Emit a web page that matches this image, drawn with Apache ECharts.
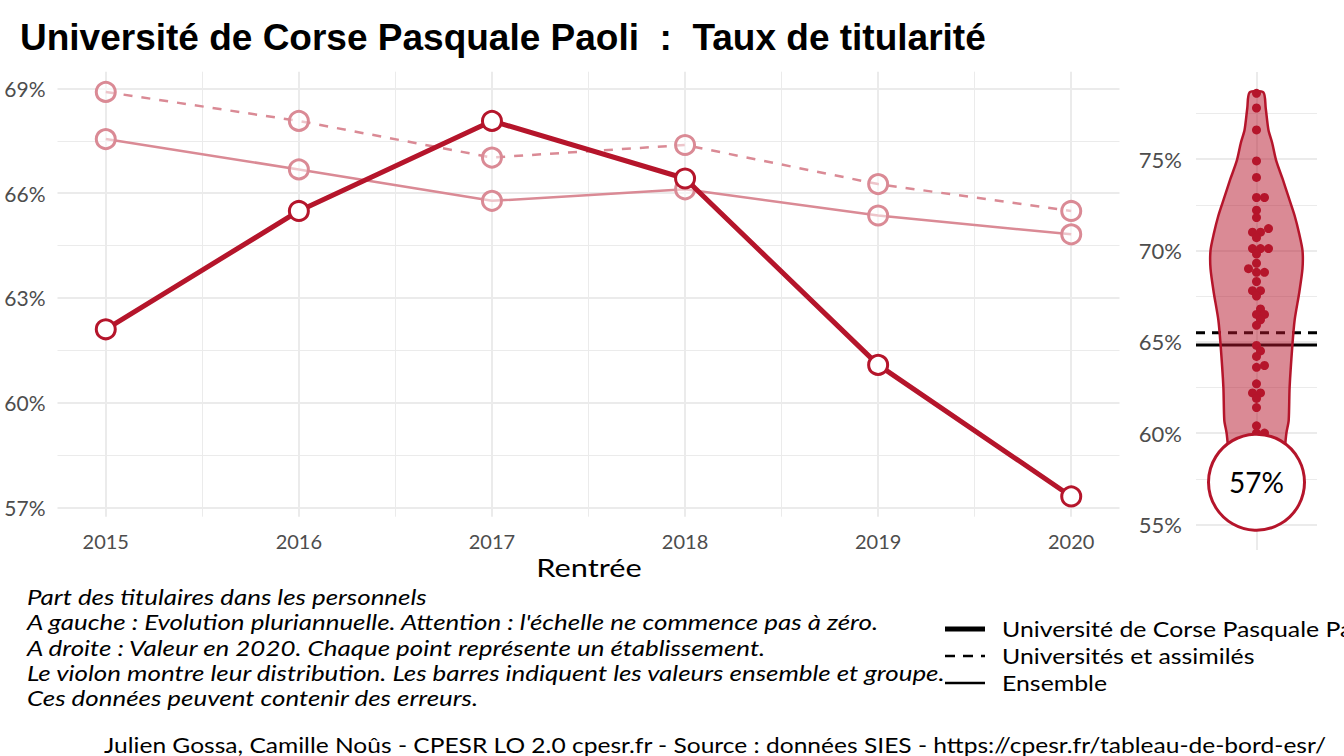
<!DOCTYPE html>
<html>
<head>
<meta charset="utf-8">
<script src="https://cdn.jsdelivr.net/npm/echarts@6.0.0/dist/echarts.min.js"></script>
<style>
  html, body { margin: 0; padding: 0; background: #fff; }
  #main { width: 1344px; height: 756px; }
</style>
</head>
<body>
<div id="main"></div>
<script>
"use strict";

// --- données ---
const years = [2015, 2016, 2017, 2018, 2019, 2020];
const corseValues = [62.10, 65.49, 68.07, 66.42, 61.08, 57.31];     // Université de Corse
const univValues = [68.90, 68.07, 67.02, 67.38, 66.26, 65.49];      // Universités et assimilés
const ensembleValues = [67.55, 66.68, 65.78, 66.11, 65.36, 64.82];  // Ensemble

const leftTicks = [57, 60, 63, 66, 69];
const leftMinorTicks = [58.5, 61.5, 64.5, 67.5];
const yearMinorTicks = [2015.5, 2016.5, 2017.5, 2018.5, 2019.5];
const rightTicks = [55, 60, 65, 70, 75];
const rightMinorTicks = [57.5, 62.5, 67.5, 72.5, 77.5];

// valeurs 2020, un point par établissement
const etabValues = [78.6, 77.8, 76.6, 74.9, 74.0, 72.9, 72.9, 72.2, 71.8, 71.2, 71.0, 71.0,
  70.7, 70.1, 70.1, 70.1, 69.8, 69.3, 69.0, 68.8, 68.8, 68.3, 67.8, 67.8, 67.5, 66.8,
  66.5, 66.5, 66.2, 65.9, 64.8, 64.5, 64.2, 63.7, 63.6, 62.7, 62.2, 62.2, 61.9, 61.4,
  60.4, 60.0, 60.0, 57.3];

// profil du violon (niveau, largeur relative)
const violinLevels = [78.65, 77.8, 76.6, 75.9, 74.9, 73.9, 72.9, 71.9, 70.9, 70.0, 69.0,
  67.7, 66.2, 64.8, 62.5, 60.7, 60.0, 59.0, 57.3];
const violinWidths = [0.15, 0.20, 0.26, 0.34, 0.43, 0.57, 0.70, 0.83, 0.93, 1.0, 1.0,
  0.93, 0.83, 0.78, 0.72, 0.70, 0.65, 0.61, 0.55];

const captionLines = [
  'Part des titulaires dans les personnels',
  "A gauche : Evolution pluriannuelle. Attention : l'échelle ne commence pas à zéro.",
  'A droite : Valeur en 2020. Chaque point représente un établissement.',
  'Le violon montre leur distribution. Les barres indiquent les valeurs ensemble et groupe.',
  'Ces données peuvent contenir des erreurs.'
];
const legendNames = ['Université de Corse Pasquale Paoli', 'Universités et assimilés', 'Ensemble'];

const RED = '#b5152b';
const LIGHT = '#da8a95';
const GRID = '#ebebeb';
const FONT = 'Lato';

// right panel geometry
const rGrid = { left: 1196, right: 27, top: 72, bottom: 206 };
const rMin = 53.6, rMax = 79.77;
const rW = 1344 - rGrid.left - rGrid.right;
const rH = 756 - rGrid.top - rGrid.bottom;

// simple beeswarm : décalage horizontal pour éviter les chevauchements
function swarm(values) {
  const pxPerUnit = rH / (rMax - rMin);
  const diam = 9;
  const placed = [];
  const order = values.map((v, i) => i).sort((a, b) => values[a] - values[b]);
  const out = new Array(values.length);
  order.forEach(i => {
    const y = values[i] * pxPerUnit;
    let off = 0;
    for (let k = 0; k < 40; k++) {
      const cand = k === 0 ? 0 : (k % 2 ? 1 : -1) * Math.ceil(k / 2) * 4;
      const hit = placed.some(p => Math.hypot(p[0] - cand, p[1] - y) < diam * 0.75);
      if (!hit) { off = cand; break; }
    }
    placed.push([off, y]);
    out[i] = [off / (rW / 2), values[i]];
  });
  return out;
}

let chart = echarts.init(document.getElementById('main'), null, { renderer: 'svg' });

const pct = v => v + '%';
const axisText = { fontFamily: FONT, color: '#4d4d4d' };

const option = {
  animation: false,
  backgroundColor: '#fff',
  title: {
    text: 'Université de Corse Pasquale Paoli  :  Taux de titularité',
    left: 15, top: 14,
    textStyle: { fontFamily: 'Liberation Sans', fontWeight: 'bold', fontSize: 37, color: '#000' }
  },
  grid: [
    { left: 57.5, right: 224.5, top: 71.7, bottom: 239.3 },
    rGrid
  ],
  xAxis: [
    {
      gridIndex: 0, type: 'value', min: 2014.75, max: 2020.25,
      axisLine: { show: false }, axisTick: { show: false, customValues: years },
      axisLabel: { customValues: years, formatter: v => String(v), margin: 14, fontSize: 20, ...axisText },
      splitLine: { show: true, lineStyle: { color: GRID, width: 2 } }
    },
    {
      gridIndex: 0, type: 'value', min: 2014.75, max: 2020.25, position: 'bottom',
      axisLine: { show: false }, axisTick: { show: false, customValues: yearMinorTicks },
      axisLabel: { show: false },
      splitLine: { show: true, lineStyle: { color: GRID, width: 1 } }
    },
    {
      gridIndex: 1, type: 'value', min: -1, max: 1,
      axisLine: { show: false }, axisTick: { show: false, customValues: [0] },
      axisLabel: { show: false },
      splitLine: { show: true, lineStyle: { color: GRID, width: 2 } }
    }
  ],
  yAxis: [
    {
      gridIndex: 0, type: 'value', min: 56.73, max: 69.48,
      axisLine: { show: false }, axisTick: { show: false, customValues: leftTicks },
      axisLabel: { customValues: leftTicks, formatter: pct, margin: 12, fontSize: 21, ...axisText },
      splitLine: { show: true, lineStyle: { color: GRID, width: 2 } }
    },
    {
      gridIndex: 0, type: 'value', min: 56.73, max: 69.48, position: 'left',
      axisLine: { show: false }, axisTick: { show: false, customValues: leftMinorTicks },
      axisLabel: { show: false },
      splitLine: { show: true, lineStyle: { color: GRID, width: 1 } }
    },
    {
      gridIndex: 1, type: 'value', min: rMin, max: rMax,
      axisLine: { show: false }, axisTick: { show: false, customValues: rightTicks },
      axisLabel: { customValues: rightTicks, formatter: pct, margin: 14, fontSize: 22, ...axisText },
      splitLine: { show: true, lineStyle: { color: GRID, width: 2 } }
    },
    {
      gridIndex: 1, type: 'value', min: rMin, max: rMax, position: 'left',
      axisLine: { show: false }, axisTick: { show: false, customValues: rightMinorTicks },
      axisLabel: { show: false },
      splitLine: { show: true, lineStyle: { color: GRID, width: 1 } }
    }
  ],
  series: [
    {
      name: legendNames[1], type: 'line', xAxisIndex: 0, yAxisIndex: 0, z: 2,
      data: years.map((y, i) => [y, univValues[i]]),
      lineStyle: { color: LIGHT, width: 2.5, type: [9, 9] },
      symbol: 'circle', symbolSize: 19,
      itemStyle: { color: 'rgba(255,255,255,0.5)', borderColor: LIGHT, borderWidth: 3 }
    },
    {
      name: legendNames[2], type: 'line', xAxisIndex: 0, yAxisIndex: 0, z: 2,
      data: years.map((y, i) => [y, ensembleValues[i]]),
      lineStyle: { color: LIGHT, width: 2.5 },
      symbol: 'circle', symbolSize: 19,
      itemStyle: { color: 'rgba(255,255,255,0.5)', borderColor: LIGHT, borderWidth: 3 }
    },
    {
      name: legendNames[0], type: 'line', xAxisIndex: 0, yAxisIndex: 0, z: 3,
      data: years.map((y, i) => [y, corseValues[i]]),
      lineStyle: { color: RED, width: 5 },
      symbol: 'circle', symbolSize: 19,
      itemStyle: { color: '#fff', borderColor: RED, borderWidth: 3 }
    },
    // barres ensemble / groupe (2020)
    {
      type: 'line', xAxisIndex: 2, yAxisIndex: 2, z: 2, symbol: 'none',
      data: [[-1, univValues[5]], [1, univValues[5]]],
      lineStyle: { color: '#000', width: 3, type: [9, 7] }
    },
    {
      type: 'line', xAxisIndex: 2, yAxisIndex: 2, z: 2, symbol: 'none',
      data: [[-1, ensembleValues[5]], [1, ensembleValues[5]]],
      lineStyle: { color: '#000', width: 3 }
    },
    // violon
    {
      type: 'custom', xAxisIndex: 2, yAxisIndex: 2, z: 3,
      data: [[0, 0]],
      renderItem: function (params, api) {
        const maxHalf = 0.76;
        const rightSide = violinLevels.map((v, i) => api.coord([violinWidths[i] * maxHalf, v]));
        const leftSide = violinLevels.map((v, i) => api.coord([-violinWidths[i] * maxHalf, v])).reverse();
        return {
          type: 'polygon',
          shape: { points: rightSide.concat(leftSide), smooth: 0.25 },
          style: { fill: 'rgba(181,21,43,0.5)', stroke: RED, lineWidth: 2.5 }
        };
      }
    },
    // un point par établissement
    {
      type: 'scatter', xAxisIndex: 2, yAxisIndex: 2, z: 4,
      data: swarm(etabValues),
      symbolSize: 9,
      itemStyle: { color: RED, opacity: 1 }
    },
    // valeur 2020 de l'établissement
    {
      type: 'scatter', xAxisIndex: 2, yAxisIndex: 2, z: 5,
      data: [[0, corseValues[5]]],
      symbolSize: 96,
      itemStyle: { color: '#fff', borderColor: RED, borderWidth: 3, opacity: 1 },
      label: {
        show: true, position: 'inside',
        formatter: p => Math.round(p.value[1]) + '%',
        fontFamily: FONT, fontSize: 28, color: '#000'
      }
    }
  ],
  graphic: [
    // titre de l'axe x
    {
      type: 'text', x: 589, y: 567, scaleX: 1.23,
      style: { text: 'Rentrée', font: '25px Lato', fill: '#000', align: 'center', verticalAlign: 'middle' }
    },
    // note
    {
      type: 'group', x: 27, y: 597, scaleX: 1.234,
      children: captionLines.map((t, i) => ({
        type: 'text', x: 0, y: i * 25.3,
        style: { text: t, font: 'italic 21px Lato', fill: '#000', verticalAlign: 'middle' }
      }))
    },
    // légende
    { type: 'line', shape: { x1: 945, y1: 629, x2: 985, y2: 629 }, style: { stroke: '#000', lineWidth: 5 } },
    { type: 'line', shape: { x1: 945, y1: 656, x2: 985, y2: 656 }, style: { stroke: '#000', lineWidth: 2.5, lineDash: [10, 8] } },
    { type: 'line', shape: { x1: 945, y1: 683, x2: 985, y2: 683 }, style: { stroke: '#000', lineWidth: 2.5 } },
    {
      type: 'group', x: 1002, y: 629, scaleX: 1.13,
      children: legendNames.map((t, i) => ({
        type: 'text', x: 0, y: i * 27,
        style: { text: t, font: '22px Lato', fill: '#000', verticalAlign: 'middle' }
      }))
    },
    // source
    {
      type: 'text', x: 104, y: 745, scaleX: 1.17,
      style: {
        text: 'Julien Gossa, Camille Noûs - CPESR LO 2.0 cpesr.fr - Source : données SIES - https://cpesr.fr/tableau-de-bord-esr/',
        font: '21px Lato', fill: '#000', verticalAlign: 'middle'
      }
    }
  ]
};

chart.setOption(option);
</script>
</body>
</html>
